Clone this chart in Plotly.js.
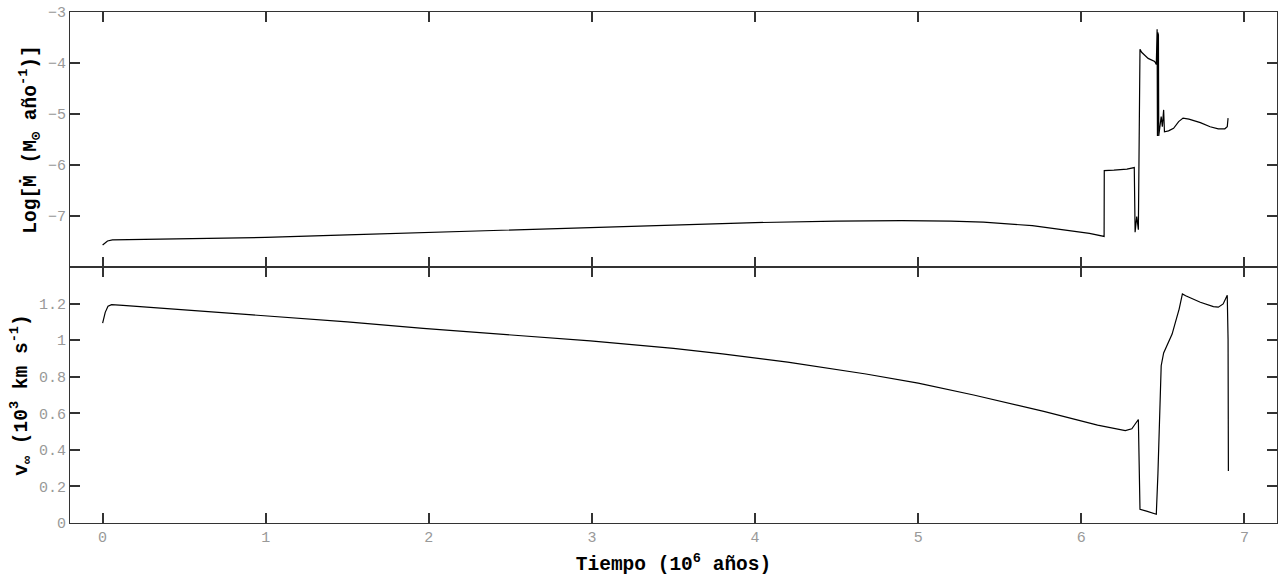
<!DOCTYPE html>
<html>
<head>
<meta charset="utf-8">
<script src="https://cdn.plot.ly/plotly-3.0.1.min.js"></script>
<style>html,body{margin:0;padding:0;background:#fff;}#chart{width:1283px;height:582px;}</style>
</head>
<body>
<div id="chart"></div>
<script>
// Mass-loss rate (top panel)
var tMdot = [0, 0.03, 0.06, 0.5, 1, 1.5, 2, 2.5, 3, 3.5, 4, 4.5, 4.9, 5.2, 5.4, 5.7, 5.9, 6.05, 6.14,
  6.141, 6.2, 6.28, 6.325, 6.33, 6.34, 6.35, 6.36, 6.37, 6.41, 6.45, 6.46,
  6.465, 6.467, 6.469, 6.471, 6.473, 6.475, 6.49, 6.497, 6.505, 6.51, 6.535, 6.566, 6.597, 6.624, 6.66, 6.73, 6.79, 6.84, 6.88, 6.895, 6.90];
var logMdot = [-7.57, -7.49, -7.47, -7.45, -7.42, -7.37, -7.32, -7.27, -7.22, -7.17, -7.13, -7.10, -7.09, -7.10, -7.12, -7.19, -7.27, -7.34, -7.40,
  -6.11, -6.10, -6.08, -6.05, -7.32, -7.01, -7.27, -3.73, -3.79, -3.91, -3.97, -4.03,
  -3.34, -5.43, -3.40, -5.40, -3.45, -5.43, -5.05, -5.25, -4.92, -5.35, -5.33, -5.28, -5.15, -5.08, -5.10, -5.17, -5.25, -5.29, -5.29, -5.25, -5.08];

// Terminal wind velocity (bottom panel)
var tVinf = [0, 0.016, 0.033, 0.055, 0.125, 0.5, 0.94, 1.5, 1.965, 2.5, 2.99, 3.5, 3.8, 4.2, 4.68, 5.0, 5.34, 5.77, 6.1, 6.27, 6.31, 6.35,
  6.36, 6.40, 6.46, 6.47, 6.48, 6.49, 6.505, 6.525, 6.557, 6.577, 6.60, 6.62, 6.64, 6.73, 6.81, 6.84, 6.87, 6.895, 6.90, 6.902];
var vinf = [1.093, 1.152, 1.185, 1.194, 1.19, 1.165, 1.134, 1.10, 1.064, 1.03, 0.996, 0.955, 0.925, 0.88, 0.815, 0.765, 0.70, 0.61, 0.535, 0.505, 0.515, 0.566,
  0.075, 0.065, 0.048, 0.27, 0.60, 0.86, 0.93, 0.97, 1.033, 1.097, 1.17, 1.253, 1.243, 1.207, 1.183, 1.18, 1.198, 1.245, 1.005, 0.285];

var yTopTicks = [-7, -6, -5, -4, -3];
var yBotTicks = [0, 0.2, 0.4, 0.6, 0.8, 1, 1.2];
var xTicks = [0, 1, 2, 3, 4, 5, 6, 7];

var lineStyle = {color: '#000', width: 1.2};
var traces = [
  {x: tMdot, y: logMdot, xaxis: 'x2', yaxis: 'y2', mode: 'lines', line: lineStyle, showlegend: false},
  {x: tVinf, y: vinf, xaxis: 'x', yaxis: 'y', mode: 'lines', line: lineStyle, showlegend: false}
];

var tickFont = {family: 'Liberation Mono, Courier New, monospace', size: 15, color: '#999999'};
var titleFont = {family: 'Liberation Mono, Courier New, monospace', size: 19.5, color: '#000', weight: 'bold'};
var frame = '#333';

function xAxisBase() {
  return {
    range: [-0.2, 7.2], tickmode: 'array', tickvals: xTicks,
    ticks: 'inside', ticklen: 10, tickcolor: frame, tickwidth: 1.5,
    showline: true, linecolor: frame, linewidth: 1, mirror: 'allticks',
    showgrid: false, zeroline: false, tickfont: tickFont
  };
}

var xBot = xAxisBase();
xBot.anchor = 'y';
xBot.domain = [0, 1];
xBot.title = {text: 'Tiempo (10<sup>6</sup> años)', font: titleFont, standoff: 10};

var xTop = xAxisBase();
xTop.anchor = 'y2';
xTop.matches = 'x';
xTop.showticklabels = false;

var layout = {
  width: 1283, height: 582,
  margin: {l: 70, r: 6, t: 12, b: 59},
  paper_bgcolor: '#fff', plot_bgcolor: '#fff',
  xaxis: xBot,
  xaxis2: xTop,
  yaxis: {
    domain: [0, 0.501], anchor: 'x', range: [0, 1.4],
    tickmode: 'array', tickvals: yBotTicks,
    ticks: 'inside', ticklen: 10, tickcolor: frame, tickwidth: 1.5,
    showline: true, linecolor: frame, mirror: 'allticks',
    showgrid: false, zeroline: false, tickfont: tickFont,
    title: {text: 'v<sub>∞</sub> (10<sup>3</sup> km s<sup>-1</sup>)', font: titleFont, standoff: 6}
  },
  yaxis2: {
    domain: [0.501, 1], anchor: 'x2', range: [-8, -3],
    tickmode: 'array', tickvals: yTopTicks,
    ticks: 'inside', ticklen: 10, tickcolor: frame, tickwidth: 1.5,
    showline: true, linecolor: frame, mirror: 'allticks',
    showgrid: false, zeroline: false, tickfont: tickFont,
    title: {text: 'Log[Ṁ (M<sub>⊙</sub> año<sup>-1</sup>)]', font: titleFont, standoff: 6}
  }
};

Plotly.newPlot('chart', traces, layout, {displayModeBar: false});
</script>
</body>
</html>
